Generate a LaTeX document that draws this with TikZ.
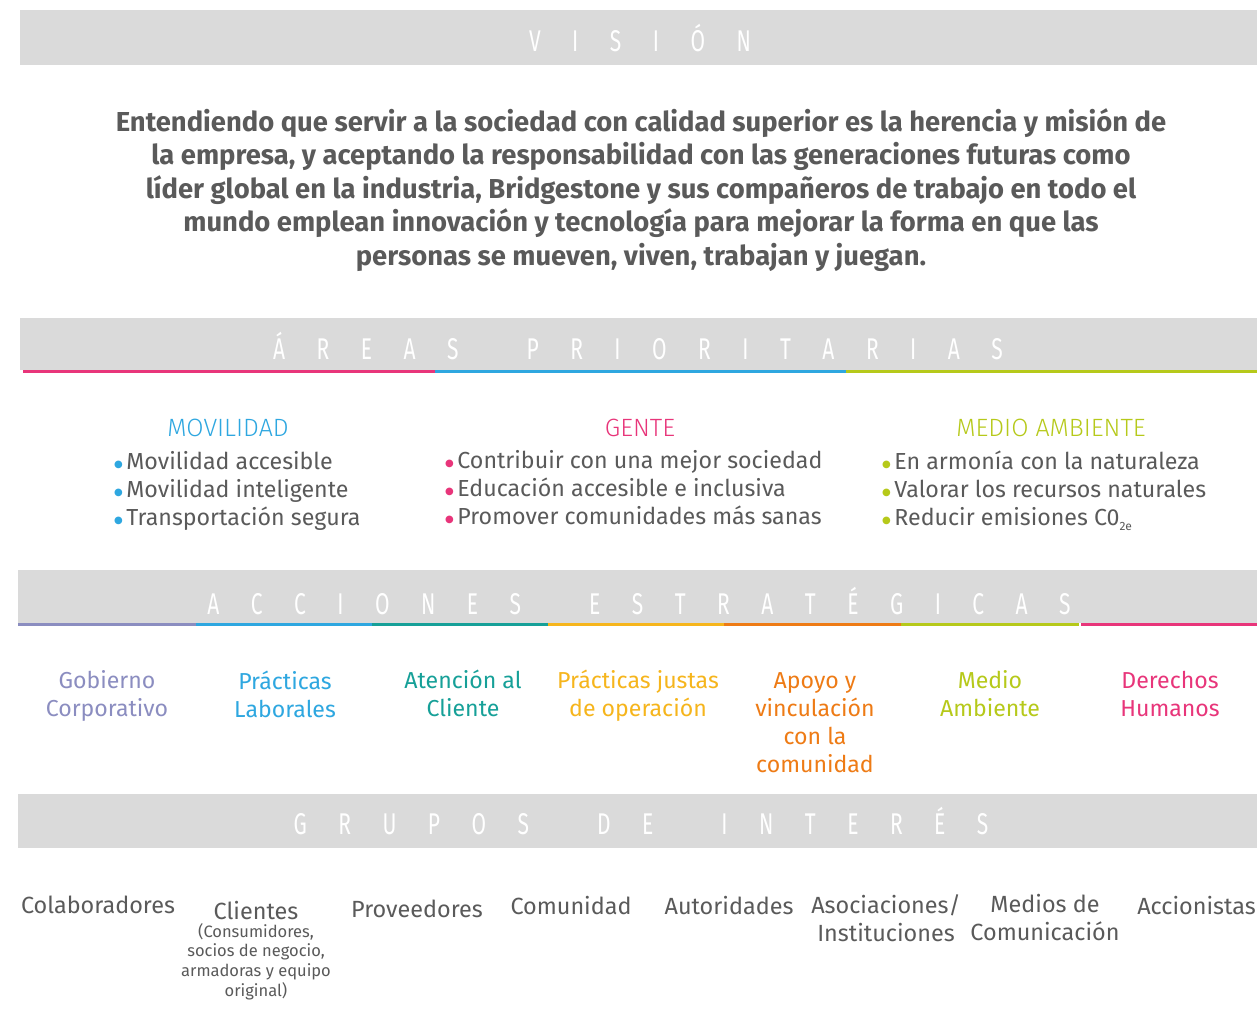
\documentclass[tikz,border=0pt]{standalone}
\usepackage{fontspec}
\setmainfont{Fira Sans}
\newfontfamily\lightf[UprightFont={* Light}]{Fira Sans}
\newfontfamily\hdrf[FakeStretch=0.7]{Fira Sans}
\newfontfamily\djv{DejaVu Sans}
\definecolor{barg}{HTML}{DADADA}
\definecolor{txtg}{HTML}{5A5A5A}
\definecolor{cpink}{HTML}{E8357A}
\definecolor{cblue}{HTML}{2EA7E0}
\definecolor{clime}{HTML}{B6C91A}
\definecolor{cpurp}{HTML}{8B8DC0}
\definecolor{cteal}{HTML}{16A098}
\definecolor{cyell}{HTML}{F6B51C}
\definecolor{corng}{HTML}{EE7B15}
\newcommand\tsp{\hspace{31.5pt}}
\newcommand\wsp{\hspace{68pt}}
\newcommand\bul[1]{{\color{#1}\raisebox{2.5pt}{\djv\fontsize{10}{10}\selectfont ●}}\hspace{3.5pt}}
\begin{document}
\begin{tikzpicture}[x=1pt,y=-1pt,
  bar/.style={fill=barg,draw=none},
  hdr/.style={text=white,inner sep=0pt,font=\hdrf\fontsize{30}{30}\selectfont},
  vis/.style={text=txtg,align=center,inner sep=0pt,font=\bfseries\fontsize{27.4}{33.5}\selectfont},
  areat/.style={inner sep=0pt,font=\lightf\fontsize{25}{28}\selectfont},
  blist/.style={text=txtg,align=left,inner sep=0pt,anchor=west,font=\fontsize{23.2}{28}\selectfont},
  acc/.style={align=center,inner sep=0pt,anchor=north,font=\fontsize{23.1}{28}\selectfont},
  grp/.style={text=txtg,align=center,inner sep=0pt,font=\fontsize{23.4}{28}\selectfont},
  sub/.style={text=txtg,align=center,inner sep=0pt,anchor=north,font=\fontsize{16.5}{19.7}\selectfont}]
\useasboundingbox (0,0) rectangle (1257,1028);
\fill[white] (0,0) rectangle (1257,1028);
% VISION
\path[bar] (20,10) rectangle (1257,65);
\node[hdr] (hvis) at (640,38) {V\tsp I\tsp S\tsp I\tsp Ó\tsp N};
\node[vis] (vtext) at (641,190) {Entendiendo que servir a la sociedad con calidad superior es la herencia y misión de\\
la empresa, y aceptando la responsabilidad con las generaciones futuras como\\
líder global en la industria, Bridgestone y sus compañeros de trabajo en todo el\\
mundo emplean innovación y tecnología para mejorar la forma en que las\\
personas se mueven, viven, trabajan y juegan.};
% AREAS
\path[bar] (20,318) rectangle (1257,370);
\fill[cpink] (23,370) rectangle (435,373);
\fill[cblue] (435,370) rectangle (846,373);
\fill[clime] (846,370) rectangle (1257,373);
\node[hdr] (hareas) at (638,346) {Á\tsp R\tsp E\tsp A\tsp S\wsp P\tsp R\tsp I\tsp O\tsp R\tsp I\tsp T\tsp A\tsp R\tsp I\tsp A\tsp S};
\node[areat,text=cblue] (tmov) at (228,428) {MOVILIDAD};
\node[areat,text=cpink] (tgen) at (640,428) {GENTE};
\node[areat,text=clime] (tmed) at (1051,428) {MEDIO AMBIENTE};
\node[blist] (lmov) at (114,491) {\bul{cblue}Movilidad accesible\\\bul{cblue}Movilidad inteligente\\\bul{cblue}Transportación segura};
\node[blist] (lgen) at (445,488) {\bul{cpink}Contribuir con una mejor sociedad\\\bul{cpink}Educación accesible e inclusiva\\\bul{cpink}Promover comunidades más sanas};
\node[blist] (lmed) at (882,491) {\bul{clime}En armonía con la naturaleza\\\bul{clime}Valorar los recursos naturales\\\bul{clime}Reducir emisiones C0\raisebox{-5pt}{\fontsize{12}{12}\selectfont 2e}};
% ACCIONES
\path[bar] (18,570) rectangle (1257,623);
\fill[cpurp] (18,623) rectangle (196,626);
\fill[cblue] (196,623) rectangle (372,626);
\fill[cteal] (372,623) rectangle (548,626);
\fill[cyell] (548,623) rectangle (724,626);
\fill[corng] (724,623) rectangle (901,626);
\fill[clime] (901,623) rectangle (1079,626);
\fill[cpink] (1081,623) rectangle (1257,626);
\node[hdr] (hacc) at (639,601) {A\tsp C\tsp C\tsp I\tsp O\tsp N\tsp E\tsp S\wsp E\tsp S\tsp T\tsp R\tsp A\tsp T\tsp É\tsp G\tsp I\tsp C\tsp A\tsp S};
\node[acc,text=cpurp] (a1) at (107,670) {Gobierno\\Corporativo};
\node[acc,text=cblue] (a2) at (285,671) {Prácticas\\Laborales};
\node[acc,text=cteal] (a3) at (463,670) {Atención al\\Cliente};
\node[acc,text=cyell] (a4) at (638,670) {Prácticas justas\\de operación};
\node[acc,text=corng] (a5) at (815,672) {Apoyo y\\vinculación\\con la\\comunidad};
\node[acc,text=clime] (a6) at (990,670) {Medio\\Ambiente};
\node[acc,text=cpink] (a7) at (1170,671) {Derechos\\Humanos};
% GRUPOS
\path[bar] (18,794) rectangle (1257,848);
\node[hdr] (hgru) at (641,821) {G\tsp R\tsp U\tsp P\tsp O\tsp S\wsp D\tsp E\wsp I\tsp N\tsp T\tsp E\tsp R\tsp É\tsp S};
\node[grp] (g1) at (98,905) {Colaboradores};
\node[grp] (g2) at (256,910) {Clientes};
\node[sub] (g2s) at (256,923) {(Consumidores,\\socios de negocio,\\armadoras y equipo\\original)};
\node[grp] (g3) at (417,909) {Proveedores};
\node[grp] (g4) at (571,905) {Comunidad};
\node[grp] (g5) at (729,905) {Autoridades};
\node[grp,anchor=north] (g6) at (886,894) {Asociaciones/\\Instituciones};
\node[grp,anchor=north] (g7) at (1045,894) {Medios de\\Comunicación};
\node[grp,anchor=east] (g8) at (1256,905) {Accionistas};
\end{tikzpicture}
\end{document}
